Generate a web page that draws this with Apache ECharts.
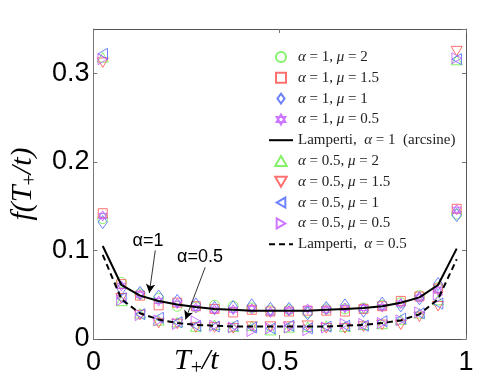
<!DOCTYPE html>
<html>
<head>
<meta charset="utf-8">
<script src="https://cdn.jsdelivr.net/npm/echarts@6/dist/echarts.min.js"></script>
<style>
  html, body { margin: 0; padding: 0; background: #fff; }
  #main { width: 491px; height: 382px; }
</style>
</head>
<body>
<div id="main"></div>
<script>
// bin centres of T+/t
var xs = [0.025, 0.075, 0.125, 0.175, 0.225, 0.275, 0.325, 0.375, 0.425, 0.475,
          0.525, 0.575, 0.625, 0.675, 0.725, 0.775, 0.825, 0.875, 0.925, 0.975];

// alpha = 1 simulations
var a1mu2   = [0.136, 0.064, 0.051, 0.046, 0.037, 0.036, 0.038, 0.037, 0.035, 0.032, 0.033, 0.030, 0.034, 0.034, 0.035, 0.038, 0.041, 0.049, 0.058, 0.141];
var a1mu15  = [0.142, 0.062, 0.049, 0.038, 0.041, 0.037, 0.034, 0.030, 0.033, 0.031, 0.031, 0.032, 0.032, 0.031, 0.034, 0.037, 0.043, 0.048, 0.057, 0.147];
var a1mu1   = [0.132, 0.057, 0.052, 0.048, 0.043, 0.039, 0.035, 0.036, 0.038, 0.034, 0.034, 0.029, 0.035, 0.038, 0.032, 0.040, 0.038, 0.046, 0.062, 0.140];
var a1mu05  = [0.139, 0.060, 0.050, 0.043, 0.040, 0.035, 0.033, 0.033, 0.034, 0.030, 0.032, 0.034, 0.033, 0.035, 0.035, 0.036, 0.040, 0.047, 0.055, 0.146];
// alpha = 0.5 simulations
var a05mu2  = [0.318, 0.043, 0.029, 0.021, 0.019, 0.014, 0.016, 0.014, 0.015, 0.010, 0.013, 0.014, 0.015, 0.014, 0.016, 0.017, 0.022, 0.029, 0.044, 0.315];
var a05mu15 = [0.312, 0.046, 0.027, 0.018, 0.017, 0.013, 0.013, 0.012, 0.014, 0.014, 0.014, 0.015, 0.012, 0.012, 0.014, 0.016, 0.016, 0.025, 0.037, 0.325];
var a05mu1  = [0.322, 0.046, 0.028, 0.024, 0.019, 0.015, 0.014, 0.015, 0.013, 0.012, 0.015, 0.012, 0.014, 0.015, 0.015, 0.020, 0.023, 0.029, 0.040, 0.316];
var a05mu05 = [0.316, 0.044, 0.027, 0.021, 0.017, 0.020, 0.015, 0.013, 0.009, 0.012, 0.013, 0.010, 0.013, 0.017, 0.017, 0.018, 0.021, 0.030, 0.050, 0.317];
// Lamperti curves
var lamp1   = [0.105, 0.061, 0.049, 0.043, 0.039, 0.036, 0.034, 0.033, 0.032, 0.032, 0.032, 0.032, 0.033, 0.034, 0.035, 0.037, 0.041, 0.047, 0.061, 0.102];
var lamp05  = [0.095, 0.045, 0.029, 0.022, 0.018, 0.016, 0.015, 0.014, 0.014, 0.014, 0.014, 0.014, 0.014, 0.015, 0.016, 0.018, 0.021, 0.028, 0.045, 0.090];

var xTicks = [0, 0.5, 1];
var yTicks = [0, 0.1, 0.2, 0.3];

function pts(vals) {
    return vals.map(function (v, i) { return [xs[i], v]; });
}

var circle   = 'circle';
var square   = 'path://M0,0L10,0L10,10L0,10Z';
var diamond  = 'path://M5,0L10,7L5,14L0,7Z';
var hexagram = 'path://M5,0L9.33,7.5L0.67,7.5Z M5,10L0.67,2.5L9.33,2.5Z';
var triUp    = 'path://M5,0L10,8.66L0,8.66Z';
var triDown  = 'path://M0,0L10,0L5,8.66Z';
var triLeft  = 'path://M0,5L8.66,0L8.66,10Z';
var triRight = 'path://M0,0L8.66,5L0,10Z';

var green = '#66ee44', red = '#ff4d4d', blue = '#4a63ff', purple = '#c255ff';

function scat(name, vals, sym, color, size) {
    return {
        name: name, type: 'scatter', data: pts(vals),
        symbol: sym, symbolSize: size, symbolKeepAspect: true,
        itemStyle: { color: 'transparent', borderColor: color, borderWidth: 1 },
        z: 2
    };
}

var series = [
    scat('α = 1, μ = 2', a1mu2, circle, green, 10),
    scat('α = 1, μ = 1.5', a1mu15, square, red, 9),
    scat('α = 1, μ = 1', a1mu1, diamond, blue, 13),
    scat('α = 1, μ = 0.5', a1mu05, hexagram, purple, 10),
    {
        name: 'Lamperti,  α = 1  (arcsine)', type: 'line', data: pts(lamp1),
        symbol: 'none', lineStyle: { color: '#000', width: 2 }, itemStyle: { color: '#000' }, z: 3,
        markLine: {
            silent: true, symbol: ['none', 'arrow'], symbolSize: [7, 9],
            lineStyle: { color: '#000', width: 0.8, type: 'solid' }, label: { show: false },
            data: [
                [{ coord: [0.166, 0.100] }, { coord: [0.150, 0.052] }],
                [{ coord: [0.300, 0.081] }, { coord: [0.247, 0.022] }]
            ]
        }
    },
    scat('α = 0.5, μ = 2', a05mu2, triUp, green, 11),
    scat('α = 0.5, μ = 1.5', a05mu15, triDown, red, 11),
    scat('α = 0.5, μ = 1', a05mu1, triLeft, blue, 11),
    scat('α = 0.5, μ = 0.5', a05mu05, triRight, purple, 11),
    {
        name: 'Lamperti,  α = 0.5', type: 'line', data: pts(lamp05),
        symbol: 'none', lineStyle: { color: '#000', width: 2, type: [6, 4] }, itemStyle: { color: '#000' }, z: 3
    }
];

var serif = 'Liberation Serif';
var legendRich = {
    g: { fontFamily: serif, fontStyle: 'italic', fontSize: 15, color: '#222', lineHeight: 16 }
};

// legend entries; the line entries hide the default dot
var legendData = series.map(function (s) {
    var item = { name: s.name };
    if (s.type === 'line') item.itemStyle = { opacity: 0 };
    return item;
});

// rich styles for the axis names with a subscript plus
var nameRich = {
    i: { fontFamily: serif, fontStyle: 'italic', fontSize: 30, color: '#000', lineHeight: 36, verticalAlign: 'middle' },
    s: { fontFamily: serif, fontSize: 20, color: '#000', lineHeight: 36, verticalAlign: 'bottom' }
};

var option = {
    animation: false,
    backgroundColor: '#fff',
    grid: { left: 86, right: 25, top: 29, bottom: 43 },
    xAxis: [{
        type: 'value', min: 0, max: 1, interval: 0.5,
        axisLine: { lineStyle: { color: '#555', width: 1 } },
        axisTick: { inside: true, length: 4, lineStyle: { color: '#777' } },
        splitLine: { show: false },
        axisLabel: { color: '#000', fontFamily: 'Liberation Sans', fontSize: 27, margin: 10,
            formatter: function (v) { return xTicks.indexOf(v) >= 0 ? String(v) : ''; } }
    }, {
        type: 'value', min: 0, max: 1, interval: 0.5, position: 'top',
        axisLine: { show: true, onZero: false, lineStyle: { color: '#555', width: 1 } },
        axisTick: { show: true, inside: true, length: 4, lineStyle: { color: '#777' } },
        axisLabel: { show: false }, splitLine: { show: false }
    }],
    yAxis: [{
        type: 'value', min: 0, max: 0.35, interval: 0.1,
        axisLine: { show: true, lineStyle: { color: '#777', width: 1 } },
        axisTick: { show: true, inside: true, length: 4, lineStyle: { color: '#777' } },
        splitLine: { show: false },
        axisLabel: { color: '#000', fontFamily: 'Liberation Sans', fontSize: 27, margin: 4,
            showMaxLabel: false,
            formatter: function (v) {
                var r = Math.round(v * 10) / 10;
                return (Math.abs(v - r) < 1e-9 && yTicks.indexOf(r) >= 0) ? String(r) : '';
            } },
        name: '{i|f(T}{s|+}{i|/t)}', nameLocation: 'middle', nameGap: 30, nameRotate: 90,
        nameTextStyle: { rich: nameRich }
    }, {
        type: 'value', min: 0, max: 0.35, interval: 0.1, position: 'right',
        axisLine: { show: true, onZero: false, lineStyle: { color: '#555', width: 1 } },
        axisTick: { show: true, inside: true, length: 4, lineStyle: { color: '#777' } },
        axisLabel: { show: false }, splitLine: { show: false }
    }],
    legend: {
        orient: 'vertical', left: 263, top: 44,
        itemWidth: 24, itemHeight: 10, itemGap: 4.8,
        selectedMode: false,
        data: legendData,
        formatter: function (name) {
            return name.replace(/[αμ]/g, function (c) { return '{g|' + c + '}'; });
        },
        textStyle: { fontFamily: serif, fontSize: 15, color: '#222', lineHeight: 16, rich: legendRich }
    },
    graphic: [
        { type: 'text', left: 174, top: 346,
          style: { text: '{i|T}{s|+}{i|/t}', rich: nameRich } },
        { type: 'text', x: 148, y: 241,
          style: { text: 'α=1', fontFamily: 'Liberation Sans', fontSize: 18, fill: '#000', align: 'center', verticalAlign: 'middle' } },
        { type: 'text', x: 200, y: 257,
          style: { text: 'α=0.5', fontFamily: 'Liberation Sans', fontSize: 18, fill: '#000', align: 'center', verticalAlign: 'middle' } }
    ],
    series: series
};

var myChart = echarts.init(document.getElementById('main'));
myChart.setOption(option);
</script>
</body>
</html>
